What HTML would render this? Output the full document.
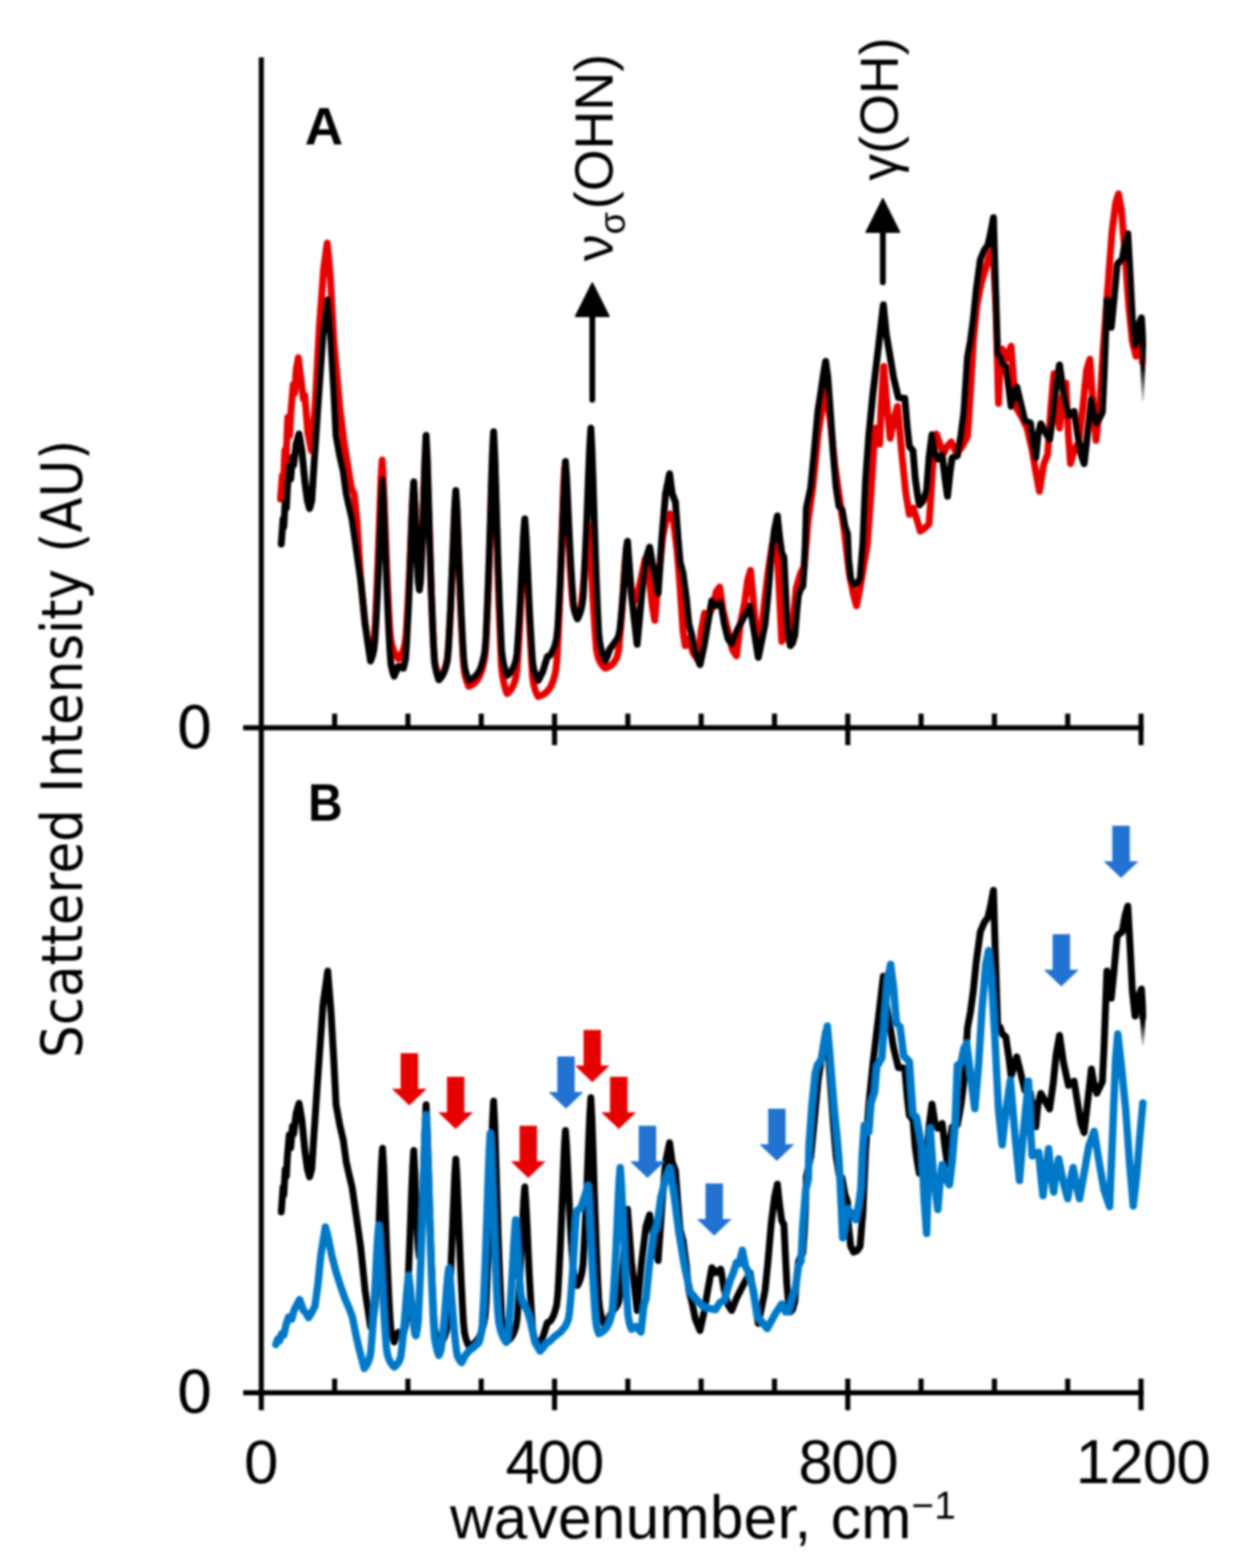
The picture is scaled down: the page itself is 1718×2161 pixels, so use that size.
<!DOCTYPE html>
<html lang="en">
<head>
<meta charset="utf-8">
<title>Scattered Intensity vs wavenumber</title>
<style>
html, body { margin: 0; padding: 0; background: #ffffff; }
body { width: 1718px; height: 2161px; overflow: hidden; }
svg { display: block; }
text { font-family: "Liberation Sans", sans-serif; fill: #000; }
.yl { font-family: "DejaVu Sans", "Liberation Sans", sans-serif; }
.curve { fill: none; stroke-linejoin: round; stroke-linecap: round; }
</style>
</head>
<body>
<svg width="1718" height="2161" viewBox="0 0 1718 2161">
<rect x="0" y="0" width="1718" height="2161" fill="#ffffff"/>
<defs><linearGradient id="fadeA" gradientUnits="userSpaceOnUse" x1="0" y1="474" x2="0" y2="552"><stop offset="0" stop-color="#000" stop-opacity="1"/><stop offset="0.45" stop-color="#000" stop-opacity="0.95"/><stop offset="1" stop-color="#000" stop-opacity="0.15"/></linearGradient><linearGradient id="fadeB" gradientUnits="userSpaceOnUse" x1="0" y1="1392" x2="0" y2="1440"><stop offset="0" stop-color="#000" stop-opacity="1"/><stop offset="0.4" stop-color="#000" stop-opacity="0.95"/><stop offset="1" stop-color="#000" stop-opacity="0.15"/></linearGradient><filter id="soft" x="0" y="0" width="1718" height="2161" filterUnits="userSpaceOnUse"><feGaussianBlur stdDeviation="1.4"/></filter></defs>
<g id="chart" filter="url(#soft)">
<!-- panel A curves -->
<polyline class="curve" stroke="#e60000" stroke-width="9.5" points="386.4,688.0 389.0,655.0 390.5,668.0 392.5,620.0 394.0,636.0 396.5,575.0 399.0,600.0 401.0,565.0 404.0,530.0 406.0,542.0 408.0,510.0 411.0,493.0 415.0,525.0 418.0,550.0 420.0,545.0 424.0,595.0 429.0,621.0 434.0,560.0 440.0,450.0 446.0,370.0 450.8,335.0 455.0,380.0 460.0,470.0 468.0,560.0 474.0,610.0 480.5,650.0 484.0,672.0 488.0,681.0 492.0,720.0 497.0,800.0 503.0,860.0 510.5,908.0 512.0,903.5 513.4,897.9 514.9,890.7 516.3,872.0 517.8,844.2 519.2,812.7 520.7,777.0 522.1,737.1 523.6,695.5 525.0,658.3 526.5,634.0 528.0,658.3 529.5,695.5 531.0,736.6 532.5,775.7 534.0,810.4 535.5,840.9 537.0,867.8 538.5,882.2 540.0,888.8 541.5,894.0 543.0,898.1 544.5,901.4 546.0,904.0 547.5,906.2 549.0,908.0 550.5,906.1 552.0,903.7 553.5,900.8 555.0,897.2 556.5,892.6 558.0,886.6 559.5,873.9 561.0,849.9 562.5,822.8 564.0,792.0 565.5,757.3 567.0,720.6 568.5,687.6 570.0,666.0 571.6,692.9 573.1,730.3 574.7,762.9 576.2,789.0 577.8,800.0 579.3,789.6 580.9,759.4 582.4,723.2 583.9,680.1 585.5,634.8 587.0,604.0 588.5,633.3 589.9,678.1 591.4,728.1 592.9,775.8 594.3,818.5 595.8,856.1 597.3,889.3 598.7,910.4 600.2,918.9 601.7,925.6 603.1,930.8 604.6,935.0 606.1,933.5 607.5,931.8 609.0,929.7 610.5,927.2 611.9,924.0 613.4,920.1 614.8,915.1 616.3,908.7 617.8,892.7 619.2,867.9 620.7,839.8 622.1,808.0 623.6,772.4 625.1,735.1 626.5,701.8 628.0,680.0 629.5,704.2 631.0,741.1 632.5,782.1 634.0,821.0 635.5,855.5 637.0,885.8 638.5,912.6 640.0,926.9 641.5,933.5 643.0,938.7 644.5,942.7 646.0,946.0 647.5,945.3 649.0,944.6 650.4,943.7 651.9,942.7 653.4,941.5 654.9,940.1 656.3,938.5 657.8,936.6 659.3,934.4 660.8,931.6 662.3,928.3 663.7,924.1 665.2,919.0 666.7,912.4 668.2,904.0 669.7,884.1 671.1,850.9 672.6,813.4 674.1,770.7 675.6,722.8 677.0,672.6 678.5,627.5 680.0,598.0 681.6,632.1 683.1,684.1 684.7,741.1 686.2,794.4 687.8,841.4 689.4,882.4 690.9,918.6 692.5,931.7 694.0,940.1 695.6,946.7 697.1,951.9 698.7,956.0 700.2,954.7 701.7,953.2 703.3,951.4 704.8,949.1 706.3,946.4 707.8,942.9 709.3,938.5 710.9,932.8 712.4,921.7 713.9,898.4 715.4,872.0 716.9,841.9 718.4,807.9 720.0,771.9 721.5,739.3 723.0,718.0 724.5,740.6 726.1,775.1 727.6,813.1 729.1,848.8 730.7,880.5 732.2,908.1 733.7,932.5 735.3,943.2 736.8,949.0 738.3,953.6 739.9,957.1 741.4,960.0 742.9,959.5 744.4,958.9 746.0,958.3 747.5,957.5 749.0,956.7 750.5,955.7 752.1,954.5 753.6,953.1 755.1,951.5 756.6,949.5 758.2,947.2 759.7,944.3 761.2,940.7 762.8,936.2 764.3,930.5 765.8,923.2 767.3,909.3 768.9,879.0 770.4,844.7 771.9,805.5 773.4,761.3 775.0,714.4 776.5,671.8 778.0,644.0 779.5,662.2 780.9,690.1 782.4,721.2 783.9,750.9 785.3,777.5 786.8,800.9 788.3,821.6 789.7,834.7 791.2,840.0 792.7,844.1 794.1,847.4 795.6,850.0 797.1,847.6 798.7,844.5 800.2,839.0 801.8,826.0 803.3,811.2 804.8,794.2 806.4,775.1 807.9,754.7 809.5,736.1 811.0,724.0 812.5,742.0 814.1,769.4 815.6,799.6 817.1,828.0 818.7,853.2 820.2,875.2 821.7,894.6 823.3,903.0 824.8,907.7 826.3,911.3 827.9,914.2 829.4,916.4 830.9,918.3 832.5,919.8 834.0,921.0 835.5,920.5 837.1,919.9 838.6,919.1 840.1,918.3 841.6,917.2 843.2,916.0 844.7,914.5 846.2,912.6 847.7,910.2 849.3,907.2 850.8,903.4 852.3,896.1 853.8,880.1 855.4,862.0 856.9,841.3 858.4,818.0 859.9,793.2 861.5,770.7 863.0,760.0 868.0,800.0 873.0,830.0 878.0,820.0 883.0,798.0 889.0,770.0 894.0,790.0 898.0,830.0 902.0,855.0 907.0,800.0 913.0,740.0 918.0,715.0 923.0,708.0 928.0,720.0 933.0,760.0 937.0,810.0 941.0,870.0 944.0,890.0 949.0,880.0 955.0,900.0 962.0,910.0 966.0,870.0 970.7,845.0 976.0,850.0 982.0,835.0 987.0,815.0 991.5,809.0 996.0,840.0 1003.0,870.0 1009.0,895.0 1014.6,904.0 1020.0,860.0 1026.0,830.0 1030.0,800.0 1034.0,786.0 1038.0,830.0 1043.0,880.0 1047.0,890.0 1052.0,840.0 1058.0,790.0 1064.0,750.0 1069.0,735.0 1073.0,800.0 1077.0,884.0 1082.0,870.0 1087.0,880.0 1092.0,860.0 1097.0,810.0 1103.0,790.0 1108.0,780.0 1113.0,720.0 1120.0,670.0 1127.0,600.0 1133.0,560.0 1138.0,540.0 1144.0,580.0 1150.0,640.0 1157.0,690.0 1163.0,730.0 1170.0,790.0 1176.0,820.0 1180.0,835.0 1185.0,810.0 1190.0,780.0 1195.0,750.0 1200.0,680.0 1203.0,630.0 1206.0,590.0 1209.0,594.0 1212.0,612.0 1214.0,560.0 1217.6,505.0 1222.0,560.0 1226.4,604.0 1231.0,580.0 1236.4,560.0 1242.7,628.0 1248.0,680.0 1252.8,709.0 1258.0,700.0 1263.0,715.0 1267.8,732.0 1274.0,728.0 1280.0,722.0 1284.0,660.0 1287.0,610.0 1290.0,598.0 1296.0,615.0 1300.0,625.0 1305.0,615.0 1310.5,609.0 1318.0,625.0 1326.0,615.0 1333.0,601.0 1337.0,540.0 1341.0,470.0 1346.0,420.0 1352.0,390.0 1358.0,370.0 1364.0,350.0 1368.0,345.0 1372.0,420.0 1375.7,556.0 1378.0,500.0 1380.7,481.0 1386.0,495.0 1393.0,477.0 1397.0,530.0 1400.8,563.0 1408.0,575.0 1415.0,590.0 1422.0,620.0 1427.0,650.0 1432.0,677.0 1438.0,640.0 1443.4,626.0 1448.0,560.0 1452.0,515.0 1456.0,560.0 1459.7,590.0 1464.0,550.0 1468.5,528.0 1472.0,600.0 1474.8,639.0 1480.0,620.0 1486.0,610.0 1492.0,560.0 1497.0,510.0 1501.6,495.0 1506.0,560.0 1510.0,607.0 1515.0,560.0 1520.0,480.0 1526.0,400.0 1532.0,320.0 1537.0,280.0 1541.0,267.0 1545.0,290.0 1550.0,350.0 1555.0,420.0 1560.0,470.0 1565.0,491.0 1569.0,460.0 1572.0,440.0 1574.0,500.0"/>
<polyline class="curve" stroke="#000000" stroke-width="9.5" points="387.5,750.0 390.0,715.0 391.0,726.0 393.0,690.0 394.5,700.0 396.0,672.0 398.5,642.0 400.5,660.0 403.0,630.0 404.5,641.0 408.0,612.0 412.0,598.0 416.0,622.0 420.0,664.0 423.5,690.0 426.5,701.0 429.5,690.0 432.0,650.0 438.0,560.0 445.0,460.0 451.5,413.0 456.0,470.0 460.0,540.0 463.0,600.0 468.0,628.0 473.0,650.0 477.0,680.0 480.5,696.0 485.0,715.0 490.0,750.0 497.0,800.0 503.0,860.0 510.5,911.0 512.0,907.1 513.5,902.2 515.0,895.9 516.5,882.3 518.0,856.8 519.5,828.0 521.0,795.1 522.5,758.2 524.0,719.2 525.5,684.0 527.0,661.0 528.5,685.1 529.9,721.8 531.4,763.0 532.8,802.4 534.3,837.8 535.7,868.9 537.2,896.4 538.6,914.9 540.1,922.0 541.5,927.6 543.0,932.0 549.0,918.0 555.7,921.0 557.1,915.5 558.6,908.5 560.0,888.7 561.4,862.2 562.9,832.2 564.3,798.3 565.7,760.6 567.1,721.5 568.6,686.8 570.0,664.0 571.6,693.9 573.1,735.5 574.7,771.8 576.2,800.8 577.8,813.0 579.3,801.7 580.9,768.9 582.4,729.6 583.9,682.7 585.5,633.5 587.0,600.0 588.5,629.8 589.9,675.4 591.4,726.3 592.9,774.9 594.3,818.4 595.8,856.7 597.3,890.5 598.7,912.0 600.2,920.6 601.7,927.4 603.1,932.7 604.6,937.0 606.1,935.5 607.5,933.7 609.0,931.6 610.5,929.0 611.9,925.8 613.4,921.7 614.8,916.6 616.3,910.1 617.8,893.7 619.2,868.3 620.7,839.6 622.1,807.0 623.6,770.5 625.1,732.4 626.5,698.3 628.0,676.0 629.5,699.8 631.0,736.2 632.5,776.6 634.0,814.8 635.5,848.9 637.0,878.7 638.5,905.1 640.0,919.2 641.5,925.7 643.0,930.8 644.5,934.8 646.0,938.0 647.5,937.3 649.0,936.6 650.4,935.7 651.9,934.7 653.4,933.6 654.9,932.2 656.3,930.6 657.8,928.8 659.3,926.5 660.8,923.8 662.3,920.5 663.7,916.4 665.2,911.3 666.7,904.9 668.2,896.6 669.7,877.0 671.1,844.3 672.6,807.3 674.1,765.2 675.6,718.0 677.0,668.5 678.5,624.1 680.0,595.0 681.6,627.0 683.1,675.8 684.7,729.3 686.2,779.3 687.8,823.4 689.4,861.9 690.9,895.9 692.5,908.2 694.0,916.1 695.6,922.3 697.1,927.1 698.7,931.0 700.2,929.9 701.7,928.5 703.3,926.8 704.8,924.8 706.3,922.3 707.8,919.1 709.3,915.1 710.9,910.0 712.4,899.9 713.9,878.7 715.4,854.8 716.9,827.4 718.4,796.6 720.0,763.9 721.5,734.4 723.0,715.0 724.5,735.8 726.1,767.6 727.6,802.6 729.1,835.6 730.7,864.7 732.2,890.2 733.7,912.7 735.3,922.5 736.8,927.9 738.3,932.1 739.9,935.4 741.4,938.0 748.0,925.0 754.0,905.0 758.0,903.0 759.5,900.9 761.0,898.3 762.5,895.1 764.0,891.1 765.5,886.0 767.0,879.4 768.5,865.3 770.0,838.9 771.5,809.1 773.0,775.0 774.5,736.7 776.0,696.3 777.5,659.8 779.0,636.0 780.5,656.1 782.0,686.9 783.5,720.9 785.0,753.0 786.5,781.6 788.1,806.7 789.6,828.8 791.1,840.0 792.6,845.4 794.1,849.7 795.6,853.0 797.1,849.9 798.7,846.0 800.2,841.1 801.7,834.7 803.3,823.2 804.8,796.6 806.3,766.5 807.9,732.2 809.4,693.3 810.9,652.1 812.5,614.6 814.0,590.0 815.5,619.8 817.1,665.3 818.6,715.4 820.2,762.4 821.7,804.0 823.2,840.4 824.8,872.5 826.3,886.0 827.8,893.6 829.4,899.6 830.9,904.3 832.5,908.0 834.0,911.0 840.0,895.0 846.5,886.0 848.0,884.2 849.5,882.0 851.0,879.2 852.5,875.7 854.0,867.9 855.5,853.4 857.0,837.0 858.5,818.3 860.0,797.3 861.5,775.1 863.0,755.1 864.5,746.0 870.0,820.0 877.8,888.0 884.0,820.0 890.0,770.0 895.0,754.0 901.0,790.0 906.7,818.0 912.0,740.0 917.0,680.0 922.5,653.0 926.0,680.0 930.5,692.0 934.0,740.0 937.0,775.0 941.0,790.0 945.6,825.0 949.0,860.0 953.0,875.0 958.0,900.0 964.4,916.0 970.0,890.0 975.0,860.0 980.7,828.0 986.0,835.0 993.0,830.0 998.0,860.0 1003.0,880.0 1008.0,888.0 1015.0,870.0 1025.0,850.0 1033.4,835.0 1039.0,870.0 1044.7,906.0 1049.0,885.0 1054.0,860.0 1058.0,820.0 1062.5,766.0 1067.0,730.0 1071.0,711.0 1074.0,740.0 1077.0,762.0 1080.0,768.0 1082.0,810.0 1084.0,850.0 1086.5,880.0 1089.0,890.0 1092.0,886.0 1095.0,875.0 1098.0,840.0 1100.0,820.0 1103.0,812.0 1106.0,808.0 1108.0,780.0 1109.5,750.0 1111.0,700.0 1117.0,672.0 1122.0,620.0 1127.0,566.0 1131.0,540.0 1134.5,516.0 1137.5,498.0 1140.5,520.0 1144.0,568.0 1148.0,625.0 1152.0,672.0 1156.0,698.0 1160.0,702.0 1164.0,725.0 1167.6,736.0 1169.0,770.0 1172.0,798.0 1176.0,806.0 1181.0,804.0 1185.0,798.0 1187.0,772.0 1188.8,750.0 1192.5,663.0 1197.0,600.0 1202.6,543.0 1210.0,480.0 1217.0,420.0 1221.0,460.0 1226.4,492.0 1231.0,520.0 1237.7,548.0 1246.5,549.0 1250.0,590.0 1252.8,615.0 1257.8,621.0 1261.0,660.0 1264.0,681.0 1266.6,696.0 1272.0,690.0 1276.6,676.0 1280.0,630.0 1284.0,599.0 1288.0,625.0 1291.6,633.0 1298.0,626.0 1302.0,660.0 1305.4,684.0 1309.0,650.0 1311.7,631.0 1319.0,628.0 1324.0,600.0 1328.0,568.0 1333.0,492.0 1337.0,470.0 1341.0,440.0 1345.0,400.0 1350.6,358.0 1356.0,345.0 1361.0,338.0 1365.0,320.0 1368.7,300.0 1371.0,380.0 1374.4,488.0 1378.0,492.0 1380.7,501.0 1385.7,505.0 1390.0,535.0 1393.0,560.0 1397.0,545.0 1400.8,533.0 1406.0,555.0 1412.0,580.0 1419.6,583.0 1423.0,610.0 1427.0,631.0 1430.0,600.0 1433.9,584.0 1440.0,595.0 1446.0,606.0 1451.0,570.0 1455.0,530.0 1459.7,503.0 1465.0,540.0 1472.0,573.0 1479.8,567.0 1485.0,600.0 1489.0,625.0 1493.6,639.0 1498.0,600.0 1503.6,550.0 1507.0,570.0 1511.0,584.0 1518.7,568.0 1521.0,520.0 1522.5,480.0 1525.0,413.0 1528.0,435.0 1531.0,451.0 1535.0,410.0 1539.0,365.0 1541.0,362.0 1546.0,358.0 1550.0,335.0 1553.8,322.0 1557.0,380.0 1560.0,440.0 1563.8,476.0 1568.0,450.0 1572.6,438.0 1574.0,462.0 1574.3,478.0"/>
<!-- panel B curves -->
<polyline class="curve" stroke="#000000" stroke-width="9.5" points="387.5,1670.3 390.0,1635.8 391.0,1646.7 393.0,1611.2 394.5,1621.0 396.0,1593.5 398.5,1563.9 400.5,1581.6 403.0,1552.1 404.5,1562.9 408.0,1534.4 412.0,1520.6 416.0,1544.2 420.0,1585.6 423.5,1611.2 426.5,1622.0 429.5,1611.2 432.0,1571.8 438.0,1483.1 445.0,1384.6 451.5,1338.3 456.0,1394.5 460.0,1463.4 463.0,1522.5 468.0,1550.1 473.0,1571.8 477.0,1601.3 480.5,1617.1 485.0,1635.8 490.0,1670.3 497.0,1719.5 503.0,1778.6 510.5,1828.9 512.0,1825.1 513.5,1820.2 515.0,1814.0 516.5,1800.6 518.0,1775.5 519.5,1747.1 521.0,1714.7 522.5,1678.3 524.0,1639.9 525.5,1605.3 527.0,1582.6 528.5,1606.3 529.9,1642.6 531.4,1683.1 532.8,1721.9 534.3,1756.7 535.7,1787.4 537.2,1814.5 538.6,1832.7 540.1,1839.7 541.5,1845.2 543.0,1849.6 549.0,1835.8 555.7,1838.7 557.1,1833.3 558.6,1826.4 560.0,1806.9 561.4,1780.8 562.9,1751.3 564.3,1717.9 565.7,1680.8 567.1,1642.3 568.6,1608.0 570.0,1585.6 571.6,1615.1 573.1,1656.0 574.7,1691.7 576.2,1720.3 577.8,1732.3 579.3,1721.2 580.9,1688.9 582.4,1650.2 583.9,1604.0 585.5,1555.5 587.0,1522.5 588.5,1551.9 589.9,1596.8 591.4,1647.0 592.9,1694.9 594.3,1737.7 595.8,1775.4 597.3,1808.7 598.7,1829.9 600.2,1838.4 601.7,1845.0 603.1,1850.3 604.6,1854.5 606.1,1853.0 607.5,1851.3 609.0,1849.2 610.5,1846.6 611.9,1843.4 613.4,1839.4 614.8,1834.4 616.3,1828.0 617.8,1811.8 619.2,1786.8 620.7,1758.6 622.1,1726.4 623.6,1690.5 625.1,1653.0 626.5,1619.4 628.0,1597.4 629.5,1620.9 631.0,1656.7 632.5,1696.5 634.0,1734.2 635.5,1767.7 637.0,1797.1 638.5,1823.1 640.0,1836.9 641.5,1843.4 643.0,1848.4 644.5,1852.3 646.0,1855.5 647.5,1854.8 649.0,1854.1 650.4,1853.2 651.9,1852.2 653.4,1851.1 654.9,1849.8 656.3,1848.2 657.8,1846.4 659.3,1844.2 660.8,1841.5 662.3,1838.3 663.7,1834.2 665.2,1829.2 666.7,1822.9 668.2,1814.7 669.7,1795.4 671.1,1763.2 672.6,1726.8 674.1,1685.3 675.6,1638.8 677.0,1590.1 678.5,1546.3 680.0,1517.6 681.6,1549.1 683.1,1597.2 684.7,1649.9 686.2,1699.2 687.8,1742.6 689.4,1780.5 690.9,1814.0 692.5,1826.1 694.0,1833.9 695.6,1840.0 697.1,1844.8 698.7,1848.6 700.2,1847.4 701.7,1846.1 703.3,1844.5 704.8,1842.5 706.3,1840.0 707.8,1836.9 709.3,1832.9 710.9,1827.9 712.4,1817.9 713.9,1797.1 715.4,1773.5 716.9,1746.6 718.4,1716.2 720.0,1684.0 721.5,1654.9 723.0,1635.8 724.5,1656.3 726.1,1687.6 727.6,1722.1 729.1,1754.6 730.7,1783.3 732.2,1808.4 733.7,1830.6 735.3,1840.2 736.8,1845.5 738.3,1849.6 739.9,1852.9 741.4,1855.5 748.0,1842.7 754.0,1823.0 758.0,1821.0 759.5,1818.9 761.0,1816.3 762.5,1813.2 764.0,1809.2 765.5,1804.2 767.0,1797.8 768.5,1783.9 770.0,1757.9 771.5,1728.5 773.0,1694.9 774.5,1657.2 776.0,1617.4 777.5,1581.5 779.0,1558.0 780.5,1577.8 782.0,1608.1 783.5,1641.6 785.0,1673.3 786.5,1701.4 788.1,1726.1 789.6,1747.9 791.1,1759.0 792.6,1764.3 794.1,1768.5 795.6,1771.8 797.1,1768.7 798.7,1764.9 800.2,1760.0 801.7,1753.7 803.3,1742.4 804.8,1716.2 806.3,1686.6 807.9,1652.7 809.4,1614.5 810.9,1573.8 812.5,1536.9 814.0,1512.7 815.5,1542.1 817.1,1586.9 818.6,1636.2 820.2,1682.5 821.7,1723.5 823.2,1759.3 824.8,1791.0 826.3,1804.2 827.8,1811.8 829.4,1817.6 830.9,1822.2 832.5,1825.9 834.0,1828.9 840.0,1813.1 846.5,1804.3 848.0,1802.5 849.5,1800.3 851.0,1797.6 852.5,1794.1 854.0,1786.4 855.5,1772.2 857.0,1756.0 858.5,1737.6 860.0,1716.9 861.5,1695.0 863.0,1675.3 864.5,1666.4 870.0,1739.2 877.8,1806.2 884.0,1739.2 890.0,1690.0 895.0,1674.2 901.0,1709.7 906.7,1737.3 912.0,1660.4 917.0,1601.3 922.5,1574.8 926.0,1601.3 930.5,1613.2 934.0,1660.4 937.0,1694.9 941.0,1709.7 945.6,1744.2 949.0,1778.6 953.0,1793.4 958.0,1818.0 964.4,1833.8 970.0,1808.2 975.0,1778.6 980.7,1747.1 986.0,1754.0 993.0,1749.1 998.0,1778.6 1003.0,1798.3 1008.0,1806.2 1015.0,1788.5 1025.0,1768.8 1033.4,1754.0 1039.0,1788.5 1044.7,1824.0 1049.0,1803.3 1054.0,1778.6 1058.0,1739.2 1062.5,1686.1 1067.0,1650.6 1071.0,1631.9 1074.0,1660.4 1077.0,1682.1 1080.0,1688.0 1082.0,1729.4 1084.0,1768.8 1086.5,1798.3 1089.0,1808.2 1092.0,1804.3 1095.0,1793.4 1098.0,1758.9 1100.0,1739.2 1103.0,1731.4 1106.0,1727.4 1108.0,1699.8 1109.5,1670.3 1111.0,1621.0 1117.0,1593.5 1122.0,1542.2 1127.0,1489.1 1131.0,1463.4 1134.5,1439.8 1137.5,1422.1 1140.5,1443.7 1144.0,1491.0 1148.0,1547.2 1152.0,1593.5 1156.0,1619.1 1160.0,1623.0 1164.0,1645.7 1167.6,1656.5 1169.0,1690.0 1172.0,1717.6 1176.0,1725.5 1181.0,1723.5 1185.0,1717.6 1187.0,1692.0 1188.8,1670.3 1192.5,1584.6 1197.0,1522.5 1202.6,1466.4 1210.0,1404.3 1217.0,1345.2 1221.0,1384.6 1226.4,1416.2 1231.0,1443.7 1237.7,1471.3 1246.5,1472.3 1250.0,1512.7 1252.8,1537.3 1257.8,1543.2 1261.0,1581.6 1264.0,1602.3 1266.6,1617.1 1272.0,1611.2 1276.6,1597.4 1280.0,1552.1 1284.0,1521.6 1288.0,1547.2 1291.6,1555.0 1298.0,1548.2 1302.0,1581.6 1305.4,1605.3 1309.0,1571.8 1311.7,1553.1 1319.0,1550.1 1324.0,1522.5 1328.0,1491.0 1333.0,1416.2 1337.0,1394.5 1341.0,1364.9 1345.0,1325.5 1350.6,1284.2 1356.0,1271.4 1361.0,1264.5 1365.0,1246.7 1368.7,1227.0 1371.0,1305.8 1374.4,1412.2 1378.0,1416.2 1380.7,1425.0 1385.7,1429.0 1390.0,1458.5 1393.0,1483.1 1397.0,1468.4 1400.8,1456.5 1406.0,1478.2 1412.0,1502.8 1419.6,1505.8 1423.0,1532.4 1427.0,1553.1 1430.0,1522.5 1433.9,1506.8 1440.0,1517.6 1446.0,1528.5 1451.0,1493.0 1455.0,1453.6 1459.7,1427.0 1465.0,1463.4 1472.0,1496.0 1479.8,1490.0 1485.0,1522.5 1489.0,1547.2 1493.6,1561.0 1498.0,1522.5 1503.6,1473.3 1507.0,1493.0 1511.0,1506.8 1518.7,1491.0 1521.0,1443.7 1522.5,1404.3 1525.0,1338.3 1528.0,1360.0 1531.0,1375.8 1535.0,1335.4 1539.0,1291.1 1541.0,1288.1 1546.0,1284.2 1550.0,1261.5 1553.8,1248.7 1557.0,1305.8 1560.0,1364.9 1563.8,1400.4 1568.0,1374.8 1572.6,1363.0 1574.0,1386.6 1574.3,1402.4"/>
<polyline class="curve" stroke="#0078c8" stroke-width="10.2" points="380.0,1853.0 383.0,1845.0 385.0,1848.0 388.0,1838.0 391.0,1840.0 394.0,1826.0 397.7,1815.0 402.0,1818.0 405.0,1806.0 408.0,1800.0 412.7,1791.0 418.0,1806.0 422.0,1810.0 425.0,1816.0 430.0,1808.0 434.0,1800.0 438.0,1770.0 442.0,1730.0 448.3,1691.0 452.0,1705.0 457.0,1730.0 463.0,1753.0 469.0,1772.0 475.4,1790.0 481.0,1803.0 485.5,1815.0 490.0,1838.0 495.0,1860.0 501.8,1886.0 503.3,1884.1 504.9,1881.9 506.4,1879.0 508.0,1875.3 509.5,1870.6 511.0,1862.4 512.6,1842.7 514.1,1820.3 515.6,1794.8 517.2,1765.9 518.7,1735.2 520.3,1707.3 521.8,1689.0 523.3,1706.6 524.8,1733.5 526.3,1763.3 527.9,1791.4 529.4,1816.4 530.9,1838.2 532.4,1857.5 533.9,1867.0 535.4,1871.7 536.9,1875.4 538.5,1878.3 540.0,1880.6 541.5,1882.5 543.0,1884.0 544.5,1882.8 546.1,1881.4 547.6,1879.5 549.2,1877.2 550.7,1874.2 552.2,1868.9 553.8,1856.3 555.3,1842.0 556.8,1825.7 558.4,1807.2 559.9,1787.6 561.5,1769.7 563.0,1758.0 564.4,1768.6 565.9,1784.6 567.3,1801.0 568.7,1815.4 570.1,1827.7 571.6,1838.0 573.0,1841.0 574.6,1833.4 576.1,1821.6 577.7,1789.4 579.2,1753.0 580.8,1711.2 582.3,1663.9 583.9,1613.4 585.4,1567.2 587.0,1537.0 588.5,1566.3 589.9,1611.1 591.4,1661.1 592.9,1708.8 594.3,1751.5 595.8,1789.1 597.3,1822.3 598.7,1843.4 600.2,1851.9 601.7,1858.6 603.1,1863.8 604.6,1868.0 606.1,1865.0 607.7,1859.4 609.2,1846.7 610.7,1832.4 612.3,1816.0 613.8,1797.4 615.3,1777.7 616.9,1759.7 618.4,1748.0 619.9,1759.5 621.3,1777.1 622.8,1796.7 624.3,1815.5 625.7,1832.3 627.2,1847.0 628.7,1860.1 630.1,1868.4 631.6,1871.7 633.1,1874.3 634.5,1876.4 636.0,1878.0 641.0,1868.0 646.0,1862.0 653.6,1856.0 660.0,1850.0 661.5,1844.5 663.1,1837.4 664.6,1825.0 666.2,1795.1 667.7,1761.3 669.2,1722.5 670.8,1678.8 672.3,1632.2 673.9,1589.8 675.4,1562.0 676.9,1587.0 678.3,1625.2 679.8,1667.8 681.3,1708.4 682.8,1744.7 684.2,1776.6 685.7,1804.8 687.2,1822.1 688.7,1829.3 690.1,1834.9 691.6,1839.3 693.1,1842.8 694.6,1845.7 696.0,1848.1 697.5,1850.0 698.9,1845.3 700.4,1832.8 701.8,1815.0 703.3,1794.9 704.7,1772.0 706.2,1746.6 707.6,1720.1 709.1,1696.5 710.5,1681.0 711.9,1698.1 713.3,1723.3 714.8,1747.3 716.2,1767.4 717.6,1784.2 719.0,1790.0 723.0,1800.0 727.0,1808.0 731.0,1822.0 737.0,1850.0 744.0,1862.0 748.0,1858.0 752.0,1852.0 758.0,1848.0 764.0,1842.0 772.0,1836.0 777.0,1830.0 778.5,1828.0 780.0,1825.4 781.5,1822.2 783.0,1818.1 784.5,1809.1 786.0,1792.4 787.5,1773.5 789.0,1752.0 790.5,1727.7 792.0,1702.2 793.5,1679.1 795.0,1668.0 800.0,1665.0 805.0,1650.0 810.0,1634.0 811.5,1653.1 813.0,1682.2 814.5,1714.5 816.0,1745.2 817.5,1772.4 819.0,1796.3 820.5,1817.4 822.0,1828.7 823.5,1833.9 825.0,1838.0 826.5,1837.3 828.0,1836.6 829.4,1835.6 830.9,1834.6 832.4,1833.3 833.9,1831.8 835.3,1830.0 836.8,1827.7 838.3,1825.0 839.8,1821.6 841.2,1817.2 842.7,1811.6 844.2,1798.2 845.6,1776.3 847.1,1751.4 848.6,1723.1 850.1,1691.5 851.5,1658.3 853.0,1628.5 854.5,1609.0 856.0,1630.7 857.6,1663.7 859.1,1700.0 860.7,1734.0 862.2,1764.0 863.8,1790.2 865.4,1813.4 866.9,1822.3 868.5,1827.8 870.0,1832.0 876.0,1828.0 883.0,1836.0 887.0,1800.0 890.0,1790.0 895.0,1740.0 900.4,1700.0 905.0,1690.0 910.5,1650.0 917.0,1625.0 923.0,1610.0 929.0,1650.0 935.5,1700.0 943.0,1745.0 950.6,1780.0 960.6,1792.0 968.0,1800.0 975.7,1803.0 985.7,1805.0 992.0,1795.0 998.0,1792.0 1005.8,1765.0 1010.0,1755.0 1014.6,1740.0 1018.0,1742.0 1022.8,1723.0 1027.0,1745.0 1031.0,1753.0 1038.0,1778.0 1043.4,1815.0 1050.0,1822.0 1057.0,1831.0 1063.0,1820.0 1068.5,1810.0 1077.0,1797.0 1082.0,1808.0 1086.0,1808.0 1091.0,1790.0 1096.0,1775.0 1100.0,1745.0 1103.6,1738.0 1106.0,1690.0 1110.0,1640.0 1113.7,1625.0 1114.5,1580.0 1118.5,1524.0 1123.0,1480.0 1126.0,1468.0 1131.0,1461.0 1135.0,1440.0 1139.8,1414.0 1143.0,1450.0 1146.5,1494.0 1150.0,1535.0 1153.0,1565.0 1156.0,1600.0 1159.0,1663.0 1161.0,1706.0 1164.0,1690.0 1167.6,1666.0 1173.0,1672.0 1179.0,1681.0 1183.0,1660.0 1186.0,1638.0 1188.0,1590.0 1190.7,1551.0 1194.0,1550.0 1197.0,1560.0 1200.0,1520.0 1205.0,1505.0 1208.0,1470.0 1215.0,1458.0 1219.0,1400.0 1223.0,1350.0 1227.0,1329.0 1231.0,1360.0 1235.0,1410.0 1240.0,1415.0 1245.0,1455.0 1252.8,1463.0 1257.8,1535.0 1262.8,1540.0 1270.0,1580.0 1273.0,1650.0 1276.6,1700.0 1279.0,1620.0 1281.6,1555.0 1286.0,1620.0 1292.0,1667.0 1295.0,1630.0 1298.0,1605.0 1303.0,1625.0 1308.0,1633.0 1312.0,1600.0 1315.5,1556.0 1319.0,1468.0 1324.0,1465.0 1328.0,1445.0 1331.8,1438.0 1337.0,1480.0 1343.0,1528.0 1348.0,1470.0 1353.0,1390.0 1358.0,1330.0 1362.0,1310.0 1366.0,1350.0 1370.7,1430.0 1375.7,1530.0 1380.7,1578.0 1386.0,1530.0 1392.0,1489.0 1398.0,1560.0 1404.5,1627.0 1410.0,1560.0 1417.0,1490.0 1420.0,1560.0 1422.0,1593.0 1431.0,1588.0 1434.0,1620.0 1437.0,1648.0 1441.0,1610.0 1444.7,1583.0 1448.0,1620.0 1451.7,1643.0 1455.0,1615.0 1458.5,1597.0 1465.0,1630.0 1471.0,1652.0 1475.0,1625.0 1478.5,1609.0 1483.0,1635.0 1487.3,1652.0 1493.0,1620.0 1500.0,1580.0 1507.4,1559.0 1514.0,1600.0 1521.0,1640.0 1528.7,1663.0 1533.0,1560.0 1537.0,1460.0 1540.0,1425.0 1545.0,1470.0 1551.0,1530.0 1556.0,1600.0 1561.3,1662.0 1566.0,1620.0 1570.0,1570.0 1574.6,1520.0"/>
<!-- fading tails at 1200 -->
<polygon fill="url(#fadeA)" points="1570,474 1579,474 1576.2,552 1572.8,552"/>
<polygon fill="url(#fadeB)" points="1570,1392 1579,1392 1576.2,1440 1572.8,1440"/>
<!-- block arrows -->
<g id="arrows">
<polygon fill="#2272d2" points="767.8,1456.0 791.8,1456.0 791.8,1505.0 803.8,1505.0 779.8,1528.0 755.8,1505.0 767.8,1505.0"/>
<polygon fill="#e60000" points="552.0,1451.5 576.0,1451.5 576.0,1500.5 588.0,1500.5 564.0,1523.5 540.0,1500.5 552.0,1500.5"/>
<polygon fill="#e60000" points="615.8,1484.0 639.8,1484.0 639.8,1533.0 651.8,1533.0 627.8,1556.0 603.8,1533.0 615.8,1533.0"/>
<polygon fill="#e60000" points="715.8,1551.5 739.8,1551.5 739.8,1600.5 751.8,1600.5 727.8,1623.5 703.8,1600.5 715.8,1600.5"/>
<polygon fill="#e60000" points="804.0,1419.5 828.0,1419.5 828.0,1468.5 840.0,1468.5 816.0,1491.5 792.0,1468.5 804.0,1468.5"/>
<polygon fill="#e60000" points="840.5,1484.0 864.5,1484.0 864.5,1533.0 876.5,1533.0 852.5,1556.0 828.5,1533.0 840.5,1533.0"/>
<polygon fill="#2272d2" points="880.0,1551.5 904.0,1551.5 904.0,1600.5 916.0,1600.5 892.0,1623.5 868.0,1600.5 880.0,1600.5"/>
<polygon fill="#2272d2" points="972.0,1631.0 996.0,1631.0 996.0,1680.0 1008.0,1680.0 984.0,1703.0 960.0,1680.0 972.0,1680.0"/>
<polygon fill="#2272d2" points="1058.3,1528.0 1082.3,1528.0 1082.3,1577.0 1094.3,1577.0 1070.3,1600.0 1046.3,1577.0 1058.3,1577.0"/>
<polygon fill="#2272d2" points="1450.2,1287.5 1474.2,1287.5 1474.2,1336.5 1486.2,1336.5 1462.2,1359.5 1438.2,1336.5 1450.2,1336.5"/>
<polygon fill="#2272d2" points="1532.5,1138.0 1556.5,1138.0 1556.5,1187.0 1568.5,1187.0 1544.5,1210.0 1520.5,1187.0 1532.5,1187.0"/>
</g>
<!-- axes -->
<g stroke="#000" stroke-width="7" stroke-linecap="butt" fill="none">
<line x1="360.0" y1="79" x2="360.0" y2="1943.5"/>
<line x1="335" y1="1003.0" x2="1575.5" y2="1003.0"/>
<line x1="335" y1="1919.5" x2="1575.5" y2="1919.5"/>
<line x1="461.0" y1="983.5" x2="461.0" y2="1003.0"/>
<line x1="562.0" y1="983.5" x2="562.0" y2="1003.0"/>
<line x1="663.0" y1="983.5" x2="663.0" y2="1003.0"/>
<line x1="764.0" y1="983.5" x2="764.0" y2="1027.0"/>
<line x1="865.0" y1="983.5" x2="865.0" y2="1003.0"/>
<line x1="966.0" y1="983.5" x2="966.0" y2="1003.0"/>
<line x1="1067.0" y1="983.5" x2="1067.0" y2="1003.0"/>
<line x1="1168.0" y1="983.5" x2="1168.0" y2="1027.0"/>
<line x1="1269.0" y1="983.5" x2="1269.0" y2="1003.0"/>
<line x1="1370.0" y1="983.5" x2="1370.0" y2="1003.0"/>
<line x1="1471.0" y1="983.5" x2="1471.0" y2="1003.0"/>
<line x1="1572.0" y1="983.5" x2="1572.0" y2="1027.0"/>
<line x1="461.0" y1="1900.0" x2="461.0" y2="1919.5"/>
<line x1="562.0" y1="1900.0" x2="562.0" y2="1919.5"/>
<line x1="663.0" y1="1900.0" x2="663.0" y2="1919.5"/>
<line x1="764.0" y1="1900.0" x2="764.0" y2="1943.5"/>
<line x1="865.0" y1="1900.0" x2="865.0" y2="1919.5"/>
<line x1="966.0" y1="1900.0" x2="966.0" y2="1919.5"/>
<line x1="1067.0" y1="1900.0" x2="1067.0" y2="1919.5"/>
<line x1="1168.0" y1="1900.0" x2="1168.0" y2="1943.5"/>
<line x1="1269.0" y1="1900.0" x2="1269.0" y2="1919.5"/>
<line x1="1370.0" y1="1900.0" x2="1370.0" y2="1919.5"/>
<line x1="1471.0" y1="1900.0" x2="1471.0" y2="1919.5"/>
<line x1="1572.0" y1="1900.0" x2="1572.0" y2="1943.5"/>
</g>
<!-- annotation arrows -->
<line x1="816" y1="435" x2="816" y2="551" stroke="#000" stroke-width="8" stroke-linecap="round"/><polygon fill="#000" stroke="#000" stroke-width="2" stroke-linejoin="round" points="816,390 839,436 793,436"/>
<line x1="1216.3" y1="319" x2="1216.3" y2="389" stroke="#000" stroke-width="8" stroke-linecap="round"/><polygon fill="#000" stroke="#000" stroke-width="2" stroke-linejoin="round" points="1216.3,274 1239.3,320 1193.3,320"/>
<!-- labels -->
<text x="420" y="199" font-size="73" font-weight="bold">A</text>
<text transform="translate(424.5,1131) scale(0.9,1)" font-size="73" font-weight="bold">B</text>
<text transform="translate(844,360) rotate(-90)" font-size="74">ν<tspan font-size="50" dy="17">σ</tspan><tspan dy="-17" dx="4">(OHN)</tspan></text>
<text transform="translate(1237,249) rotate(-90)" font-size="74">γ(OH)</text>
<text class="yl" x="268" y="1031" font-size="81" text-anchor="middle">0</text>
<text class="yl" x="268" y="1947" font-size="81" text-anchor="middle">0</text>
<text class="yl" transform="translate(113,1458) rotate(-90)" font-size="78" textLength="852" lengthAdjust="spacingAndGlyphs">Scattered Intensity (AU)</text>
<text x="360" y="2043.5" font-size="85" text-anchor="middle">0</text>
<text x="696.5" y="2043.5" font-size="85" textLength="136" lengthAdjust="spacing">400</text>
<text x="1100" y="2043.5" font-size="85" textLength="138" lengthAdjust="spacing">800</text>
<text x="1482" y="2043.5" font-size="85" textLength="186" lengthAdjust="spacing">1200</text>
<text x="620" y="2119.5" font-size="83" letter-spacing="0.4">wavenumber, <tspan dx="3">cm</tspan><tspan font-size="53" dx="0" dy="-27">−1</tspan></text>
</g>
</svg>
</body>
</html>
